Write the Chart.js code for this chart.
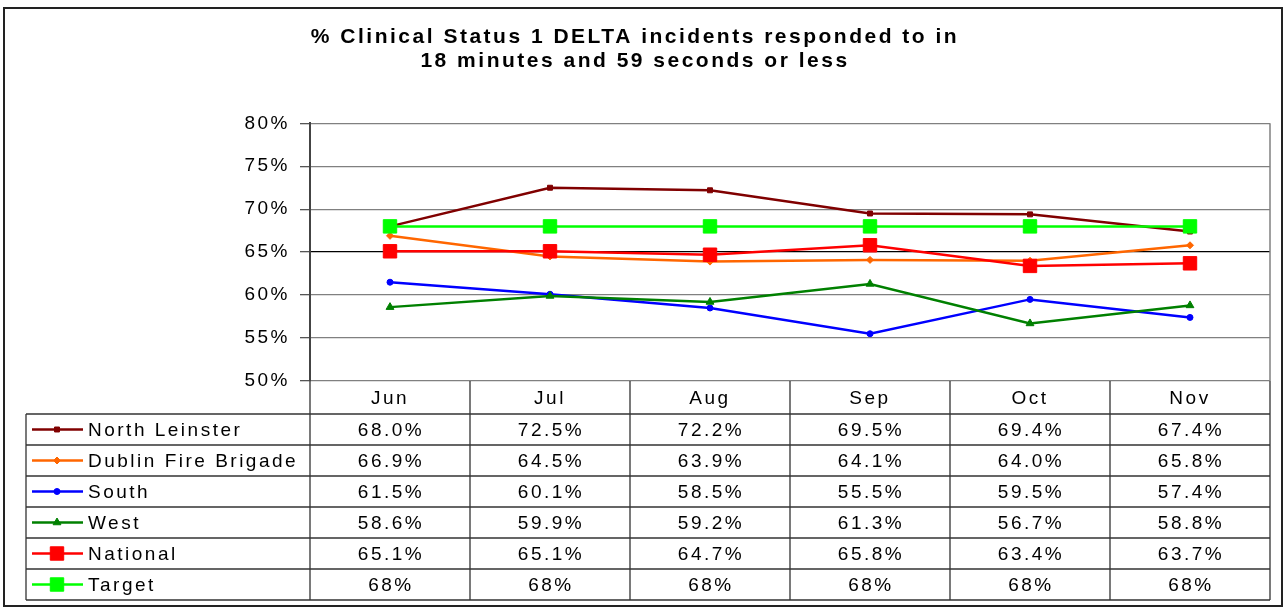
<!DOCTYPE html>
<html>
<head>
<meta charset="utf-8">
<script src="https://cdn.jsdelivr.net/npm/chart.js@4"></script>
<style>
body { margin: 0; background: #fff; }
#wrap { width: 1286px; height: 609px; }
</style>
</head>
<body>
<div id="wrap"><canvas id="deltaChart" width="1286" height="609"></canvas></div>
<script>
var months = ["Jun", "Jul", "Aug", "Sep", "Oct", "Nov"];
var northLeinster = [68.0, 72.5, 72.2, 69.5, 69.4, 67.4];
var dublinFire = [66.9, 64.5, 63.9, 64.1, 64.0, 65.8];
var south = [61.5, 60.1, 58.5, 55.5, 59.5, 57.4];
var west = [58.6, 59.9, 59.2, 61.3, 56.7, 58.8];
var national = [65.1, 65.1, 64.7, 65.8, 63.4, 63.7];
var target = [68, 68, 68, 68, 68, 68];
var yTicks = [50, 55, 60, 65, 70, 75, 80];

var FONT = "'Liberation Sans', Arial, sans-serif";
var SPACING = "2.5px"; // original text is drawn wide

function series(label, values, color, style, radius, decimals) {
    return {
        label: label,
        data: values,
        borderColor: color,
        backgroundColor: color,
        pointBackgroundColor: color,
        pointBorderColor: color,
        borderWidth: 2.5,
        pointStyle: style,
        pointRadius: radius,
        pointHoverRadius: radius,
        pointBorderWidth: 1,
        decimals: decimals,
        tension: 0
    };
}

var datasets = [
    series("North Leinster", northLeinster, "#800000", "rect", 3.5, 1),
    series("Dublin Fire Brigade", dublinFire, "#FF6600", "rectRot", 3.5, 1),
    series("South", south, "#0000FF", "circle", 3, 1),
    series("West", west, "#008000", "triangle", 4.5, 1),
    series("National", national, "#FF0000", "rect", 9.5, 1),
    series("Target", target, "#00FF00", "rect", 9.5, 0)
];
// later series on top, like the original
datasets.forEach(function (d, i) { d.order = datasets.length - i; });

// frame + data table under the plot
var tablePlugin = {
    id: "dataTable",
    beforeDraw: function (chart) {
        var ctx = chart.ctx;
        ctx.save();
        ctx.fillStyle = "#fff";
        ctx.fillRect(0, 0, chart.width, chart.height);
        ctx.strokeStyle = "#222";
        ctx.lineWidth = 2;
        ctx.strokeRect(4, 8, 1278, 598);
        ctx.restore();
        ctx.letterSpacing = SPACING;
    },
    afterDraw: function (chart) {
        var ctx = chart.ctx;
        var area = chart.chartArea;
        var colW = (area.right - area.left) / months.length;
        var tableLeft = 26;
        var rowTop = area.bottom + 33;
        var rowH = 31;
        var rows = chart.data.datasets.length;
        var tableBottom = rowTop + rows * rowH;

        ctx.save();
        // plot right border
        ctx.strokeStyle = "#808080";
        ctx.lineWidth = 1.5;
        ctx.beginPath();
        ctx.moveTo(area.right, area.top);
        ctx.lineTo(area.right, area.bottom);
        ctx.stroke();

        ctx.strokeStyle = "#333";
        ctx.lineWidth = 1.3;
        ctx.beginPath();
        for (var r = 0; r <= rows; r++) {
            ctx.moveTo(tableLeft, rowTop + r * rowH);
            ctx.lineTo(area.right, rowTop + r * rowH);
        }
        ctx.moveTo(tableLeft, rowTop);
        ctx.lineTo(tableLeft, tableBottom);
        for (var c = 0; c <= months.length; c++) {
            ctx.moveTo(area.left + c * colW, area.bottom);
            ctx.lineTo(area.left + c * colW, tableBottom);
        }
        ctx.stroke();

        ctx.font = "19px " + FONT;
        ctx.letterSpacing = SPACING;
        ctx.textBaseline = "middle";
        chart.data.datasets.forEach(function (ds, i) {
            var cy = rowTop + i * rowH + rowH / 2;
            // legend key
            ctx.strokeStyle = ds.borderColor;
            ctx.lineWidth = 2.5;
            ctx.beginPath();
            ctx.moveTo(32, cy);
            ctx.lineTo(83, cy);
            ctx.stroke();
            ctx.fillStyle = ds.pointBackgroundColor;
            ctx.strokeStyle = ds.pointBorderColor;
            ctx.lineWidth = 1;
            Chart.helpers.drawPoint(ctx, {
                pointStyle: ds.pointStyle,
                radius: ds.pointRadius,
                rotation: 0,
                borderWidth: 1
            }, 57, cy);

            ctx.fillStyle = "#000";
            ctx.textAlign = "left";
            ctx.fillText(ds.label, 88, cy + 1.5);
            ctx.textAlign = "center";
            ds.data.forEach(function (v, j) {
                var cx = chart.scales.x.getPixelForValue(j) + 1;
                ctx.fillText(v.toFixed(ds.decimals) + "%", cx, cy + 1.5);
            });
        });
        ctx.restore();
    }
};

var ctx = document.getElementById("deltaChart").getContext("2d");

var deltaChart = new Chart(ctx, {
    type: "line",
    data: {
        labels: months,
        datasets: datasets
    },
    options: {
        responsive: false,
        animation: false,
        layout: {
            padding: { left: 0, right: 16, top: 0, bottom: 0 }
        },
        plugins: {
            legend: { display: false },
            tooltip: { enabled: false },
            title: {
                display: true,
                text: ["% Clinical Status 1 DELTA incidents responded to in", "18 minutes and 59 seconds or less"],
                color: "#000",
                font: { family: FONT, size: 21, weight: "bold", lineHeight: 1.15 },
                padding: { top: 25, bottom: 50 }
            }
        },
        scales: {
            x: {
                offset: true,
                grid: { display: false, drawTicks: false },
                border: { display: false },
                ticks: {
                    color: "#000",
                    font: { family: FONT, size: 19 },
                    padding: 6,
                    maxRotation: 0,
                    autoSkip: false
                },
                afterFit: function (axis) { axis.height = 228; }
            },
            y: {
                min: 50,
                max: 80,
                afterBuildTicks: function (axis) {
                    axis.ticks = yTicks.map(function (v) { return { value: v }; });
                },
                grid: {
                    color: function (c) { return c.tick && c.tick.value === 65 ? "#000" : "#808080"; },
                    tickColor: "#555",
                    lineWidth: 1.3,
                    tickLength: 10
                },
                border: { display: true, color: "#444", width: 2 },
                ticks: {
                    color: "#000",
                    font: { family: FONT, size: 19 },
                    padding: 10,
                    callback: function (v) { return v + "%"; }
                },
                afterFit: function (axis) { axis.width = 310; }
            }
        }
    },
    plugins: [tablePlugin]
});
</script>
</body>
</html>
